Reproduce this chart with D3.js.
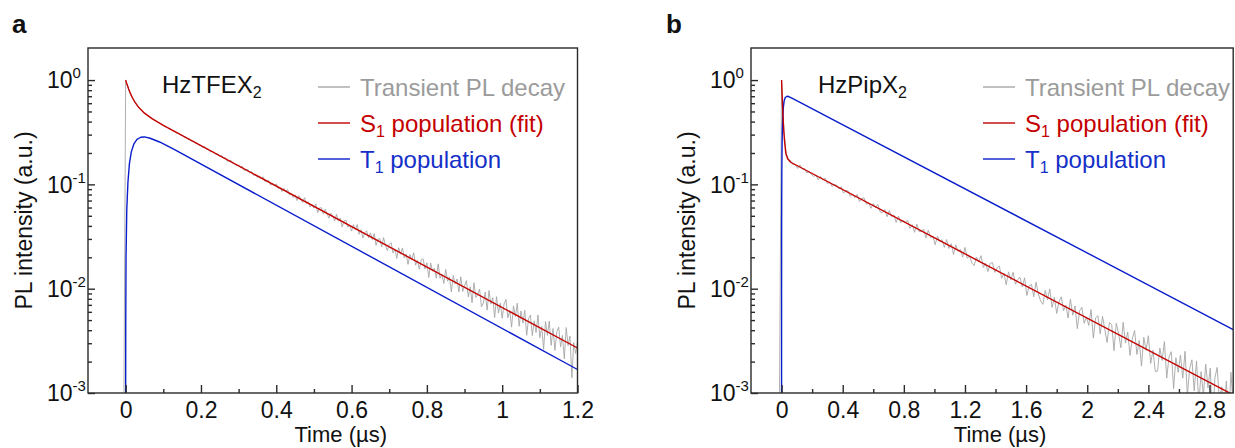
<!DOCTYPE html>
<html>
<head>
<meta charset="utf-8">
<script src="https://cdn.jsdelivr.net/npm/d3@7"></script>
<style>
  body { margin: 0; background: #fff; }
  svg { display: block; font-family: "Liberation Sans", Arial, sans-serif; }
</style>
</head>
<body>
<svg id="chart" width="1235" height="448"></svg>
<script>
// ---- data (time in µs, intensity normalised) ----

// panel a: HzTFEX2
const s1TimeA  = [0, 0.002, 0.004, 0.008, 0.012, 0.018, 0.025, 0.035, 0.05, 0.07, 0.1, 1.2];
const s1ValueA = [1.0, 0.95, 0.90, 0.82, 0.754, 0.677, 0.611, 0.545, 0.482, 0.427, 0.368, 0.0027];
const t1TimeA  = [0.00005, 0.0002, 0.001, 0.003, 0.006, 0.01, 0.015, 0.022, 0.03, 0.04, 0.05, 0.065, 0.09, 0.13, 1.2];
const t1ValueA = [0.001, 0.004, 0.02, 0.057, 0.104, 0.158, 0.205, 0.245, 0.27, 0.283, 0.285, 0.277, 0.255, 0.215, 0.00168];
// measured decay, one sample every 0.005 µs starting at -0.005 µs
const grayStartA = -0.005, grayStepA = 0.005;
const grayA = [
  0.0005, 0.98, 0.88, 0.77, 0.70, 0.655, 0.612, 0.576, 0.546, 0.521, 0.499, 0.481, 0.466, 0.452, 0.439, 0.428, 0.416, 0.406, 0.395, 0.386, 0.377,
  0.369, 0.358, 0.354, 0.342, 0.338, 0.327, 0.324, 0.313, 0.309, 0.300,
  0.297, 0.284, 0.284, 0.271, 0.272, 0.259, 0.260, 0.248, 0.249, 0.237,
  0.237, 0.225, 0.230, 0.218, 0.218, 0.205, 0.208, 0.202, 0.193, 0.196,
  0.1847, 0.1885, 0.1784, 0.1798, 0.166, 0.1697, 0.1694, 0.1583, 0.1576, 0.15,
  0.1542, 0.1451, 0.1496, 0.1362, 0.1386, 0.1382, 0.1286, 0.1327, 0.1214, 0.1247,
  0.1167, 0.1203, 0.1144, 0.1182, 0.1064, 0.1088, 0.1084, 0.0983, 0.1025, 0.0972,
  0.1012, 0.0913, 0.0939, 0.0852, 0.0918, 0.0858, 0.0893, 0.0794, 0.0813, 0.075,
  0.0796, 0.07, 0.0778, 0.0725, 0.067, 0.0746, 0.066, 0.0684, 0.0606, 0.0641,
  0.0592, 0.0649, 0.0535, 0.0595, 0.0597, 0.0522, 0.0578, 0.052, 0.0475, 0.053,
  0.05, 0.0446, 0.0517, 0.0444, 0.0475, 0.0391, 0.0444, 0.0454, 0.039, 0.0406,
  0.0357, 0.0411, 0.0367, 0.0412, 0.0333, 0.0367, 0.0307, 0.0343, 0.036, 0.0306,
  0.0343, 0.0296, 0.0337, 0.026, 0.0297, 0.0302, 0.0251, 0.0309, 0.0258, 0.0232,
  0.0266, 0.0276, 0.022, 0.0241, 0.0195, 0.0247, 0.0214, 0.0246, 0.0197, 0.0215,
  0.0171, 0.0212, 0.019, 0.0221, 0.0168, 0.0187, 0.0154, 0.0189, 0.0193, 0.0154,
  0.0177, 0.0128, 0.0176, 0.0147, 0.0157, 0.0126, 0.0173, 0.0126, 0.0137, 0.0112,
  0.0153, 0.0118, 0.0129, 0.0093, 0.0134, 0.0111, 0.0124, 0.0093, 0.013, 0.0094,
  0.01065, 0.01195, 0.00834, 0.01045, 0.00734, 0.0114, 0.00824, 0.00881, 0.00993, 0.0067,
  0.0073, 0.00929, 0.00623, 0.0096, 0.00711, 0.00821, 0.00529, 0.00839, 0.00584, 0.00725,
  0.00521, 0.00713, 0.00789, 0.00525, 0.00616, 0.00428, 0.00686, 0.00539, 0.00725, 0.00437,
  0.00612, 0.00468, 0.0062, 0.00357, 0.00515, 0.00558, 0.00355, 0.00492, 0.0038, 0.0056,
  0.00338, 0.00434, 0.00262, 0.00484, 0.00357, 0.0049, 0.00286, 0.00415, 0.00256, 0.00388,
  0.00428, 0.00277, 0.00357, 0.00213, 0.00424, 0.00285, 0.00351, 0.0014, 0.00305, 0.00239,
  0.0031
];

// panel b: HzPipX2
const s1TimeB  = [0, 0.003, 0.006, 0.01, 0.015, 0.02, 0.028, 0.04, 0.06, 2.955];
const s1ValueB = [1.0, 0.755, 0.584, 0.432, 0.318, 0.255, 0.198, 0.176, 0.163, 0.00096];
const t1TimeB  = [0.000012, 0.0001, 0.0005, 0.0015, 0.003, 0.005, 0.008, 0.012, 0.017, 0.024, 0.036, 0.05, 0.08, 2.955];
const t1ValueB = [0.001, 0.0087, 0.043, 0.12, 0.22, 0.33, 0.45, 0.557, 0.633, 0.681, 0.70, 0.692, 0.658, 0.00406];
// measured decay, one sample every 0.015 µs starting at -0.015 µs
const grayStartB = -0.015, grayStepB = 0.015;
const grayB = [
  0.0005, 0.97, 0.33, 0.2, 0.172,
  0.1683, 0.1538, 0.1559, 0.1422, 0.1536, 0.1406, 0.1419, 0.129, 0.1324, 0.1249,
  0.1196, 0.1219, 0.1103, 0.1192, 0.1101, 0.1146, 0.1015, 0.1059, 0.0953, 0.0999,
  0.0986, 0.0907, 0.0949, 0.0823, 0.0868, 0.0868, 0.0769, 0.0806, 0.0745, 0.08,
  0.0686, 0.0731, 0.0741, 0.0645, 0.066, 0.059, 0.0655, 0.0599, 0.0642, 0.0544,
  0.0536, 0.0574, 0.049, 0.0561, 0.0493, 0.051, 0.0432, 0.0496, 0.0428, 0.0452,
  0.0435, 0.0452, 0.0379, 0.0411, 0.0347, 0.0416, 0.0352, 0.0356, 0.0371, 0.0307,
  0.0364, 0.0309, 0.032, 0.0264, 0.0319, 0.0283, 0.0295, 0.0249, 0.0296, 0.0243,
  0.027, 0.0213, 0.0263, 0.0228, 0.0238, 0.0201, 0.0249, 0.0196, 0.0206, 0.0176,
  0.01665, 0.02011, 0.01811, 0.02071, 0.01597, 0.0175, 0.01458, 0.01752, 0.01778, 0.01434,
  0.01578, 0.01649, 0.01259, 0.01404, 0.0109, 0.0145, 0.01215, 0.01439, 0.01105, 0.01228,
  0.01289, 0.0104, 0.01271, 0.0086, 0.01067, 0.011, 0.00838, 0.01155, 0.00891, 0.0076,
  0.00708, 0.00963, 0.00784, 0.00995, 0.00663, 0.00828, 0.00579, 0.00748, 0.00836, 0.00616,
  0.00694, 0.00523, 0.00793, 0.00557, 0.00683, 0.00414, 0.00614, 0.00663, 0.00466, 0.00536,
  0.00444, 0.00631, 0.00336, 0.00525, 0.00551, 0.00369, 0.00543, 0.00406, 0.00305, 0.00474,
  0.00453, 0.00255, 0.00467, 0.00372, 0.00272, 0.00476, 0.00301, 0.00384, 0.00229, 0.00333,
  0.00397, 0.00234, 0.00319, 0.00181, 0.00342, 0.00256, 0.00354, 0.00192, 0.00257, 0.00161,
  0.00162, 0.0027, 0.00205, 0.00311, 0.00139, 0.00222, 0.00249, 0.0011, 0.00218, 0.00158,
  0.00231, 0.00139, 0.00251, 0.00095, 0.00171, 0.00208, 0.00105, 0.00203, 0.00078, 0.0016,
  0.00095, 0.00189, 0.00112, 0.00173, 0.00049, 0.00139, 0.00176, 0.00084, 0.00115, 0.00061,
  0.0013, 0.00051, 0.00158, 0.00077
];

// ticks
const xMajorA = [0, 0.2, 0.4, 0.6, 0.8, 1, 1.2];
const xMinorA = [0.1, 0.3, 0.5, 0.7, 0.9, 1.1];
const xMajorB = [0, 0.4, 0.8, 1.2, 1.6, 2, 2.4, 2.8];
const xMinorB = [0.2, 0.6, 1.0, 1.4, 1.8, 2.2, 2.6];
const yDecades = [0.001, 0.01, 0.1, 1];
const yExponents = ["-3", "-2", "-1", "0"];

// text
const legendParts = [["Transient PL decay", "", ""], ["S", "1", " population (fit)"], ["T", "1", " population"]];

// ---- drawing ----
const grayColor = "#a6a6a6", redColor = "#c40000", blueColor = "#0a1ecc";
const legendColors = [grayColor, redColor, blueColor];
const legendTextColors = ["#9b9b9b", "#c40000", "#1430c8"];
const axisColor = "#2a2a2a";
const plotTop = 48, plotBottom = 393;
const yMin = 0.001, yMax = 2.03;

const svg = d3.select("#chart");

const panels = [
  { id: "a", letter: "a", name: "HzTFEX", left: 88, right: 577.5, xDomain: [-0.1, 1.2],
    xMajor: xMajorA, xMinor: xMinorA, s1: d3.zip(s1TimeA, s1ValueA), t1: d3.zip(t1TimeA, t1ValueA),
    gray: grayA, grayStart: grayStartA, grayStep: grayStepA, nameX: 162, legendX: 318, letterX: 12 },
  { id: "b", letter: "b", name: "HzPipX", left: 751, right: 1233.2, xDomain: [-0.2, 2.955],
    xMajor: xMajorB, xMinor: xMinorB, s1: d3.zip(s1TimeB, s1ValueB), t1: d3.zip(t1TimeB, t1ValueB),
    gray: grayB, grayStart: grayStartB, grayStep: grayStepB, nameX: 818, legendX: 983, letterX: 666 }
];

panels.forEach(p => {
  const x = d3.scaleLinear().domain(p.xDomain).range([p.left, p.right]);
  const y = d3.scaleLog().domain([yMin, yMax]).range([plotBottom, plotTop]);
  const g = svg.append("g");

  g.append("clipPath").attr("id", "clip-" + p.id)
    .append("rect")
    .attr("x", p.left).attr("y", plotTop)
    .attr("width", p.right - p.left).attr("height", plotBottom - plotTop);

  const plot = g.append("g").attr("clip-path", `url(#clip-${p.id})`);

  const grayLine = d3.line()
    .x((d, i) => x(p.grayStart + i * p.grayStep))
    .y(d => y(d));

  // straight segments on the log scale = single exponentials
  const fitLine = d3.line()
    .x(d => x(d[0]))
    .y(d => y(d[1]));

  plot.append("path")
    .datum(p.gray)
    .attr("fill", "none")
    .attr("stroke", grayColor)
    .attr("stroke-width", 0.9)
    .attr("d", grayLine);

  plot.append("path")
    .datum(p.t1)
    .attr("fill", "none")
    .attr("stroke", blueColor)
    .attr("stroke-width", 1.4)
    .attr("stroke-linejoin", "round")
    .attr("d", fitLine);

  plot.append("path")
    .datum(p.s1)
    .attr("fill", "none")
    .attr("stroke", redColor)
    .attr("stroke-width", 1.4)
    .attr("stroke-linejoin", "round")
    .attr("d", fitLine);

  // x axis, ticks pointing inward
  const styleAxis = sel => {
    sel.select(".domain").remove();
    sel.selectAll(".tick line").attr("stroke", axisColor).attr("stroke-width", 1.4);
    sel.attr("font-family", null).attr("font-size", 23);
    sel.selectAll(".tick text").attr("fill", "#111");
  };

  g.append("g")
    .attr("transform", `translate(0,${plotBottom})`)
    .call(d3.axisBottom(x).tickValues(p.xMinor).tickSize(-4).tickFormat(""))
    .call(styleAxis);

  g.append("g")
    .attr("transform", `translate(0,${plotBottom})`)
    .call(d3.axisBottom(x).tickValues(p.xMajor).tickSize(-8).tickPadding(8.5).tickFormat(d3.format("~g")))
    .call(styleAxis);

  // y axis (log)
  const yMinor = y.ticks().filter(v => v < 1 && !yDecades.includes(v));
  g.append("g")
    .attr("transform", `translate(${p.left},0)`)
    .call(d3.axisLeft(y).tickValues(yMinor).tickSize(-4).tickFormat(""))
    .call(styleAxis);

  g.append("g")
    .attr("transform", `translate(${p.left},0)`)
    .call(d3.axisLeft(y).tickValues(yDecades).tickSize(-7).tickFormat(""))
    .call(styleAxis);

  yDecades.forEach((v, i) => {
    const t = g.append("text")
      .attr("x", p.left - 41)
      .attr("y", y(v))
      .attr("dy", "0.36em")
      .attr("font-size", 23)
      .attr("fill", "#111");
    t.append("tspan").text("10");
    t.append("tspan").attr("font-size", 15).attr("dy", -10).text(yExponents[i]);
  });

  // frame
  g.append("rect")
    .attr("x", p.left).attr("y", plotTop)
    .attr("width", p.right - p.left).attr("height", plotBottom - plotTop)
    .attr("fill", "none")
    .attr("stroke", axisColor)
    .attr("stroke-width", 1.4);

  // axis titles
  g.append("text")
    .attr("x", (p.left + p.right) / 2 + 8)
    .attr("y", 442)
    .attr("text-anchor", "middle")
    .attr("font-size", 22)
    .attr("fill", "#111")
    .text("Time (µs)");

  g.append("text")
    .attr("transform", `translate(${p.left - 56},${(plotTop + plotBottom) / 2}) rotate(-90)`)
    .attr("text-anchor", "middle")
    .attr("font-size", 23)
    .attr("fill", "#111")
    .text("PL intensity (a.u.)");

  // panel letter
  g.append("text")
    .attr("x", p.letterX)
    .attr("y", 33)
    .attr("font-size", 26)
    .attr("font-weight", "bold")
    .attr("fill", "#111")
    .text(p.letter);

  // compound name
  const nm = g.append("text")
    .attr("x", p.nameX)
    .attr("y", 93)
    .attr("font-size", 24)
    .attr("fill", "#111");
  nm.append("tspan").text(p.name);
  nm.append("tspan").attr("font-size", 16).attr("dy", 5).text("2");

  // legend
  legendParts.forEach((parts, i) => {
    const ly = 87 + i * 36;
    g.append("line")
      .attr("x1", p.legendX).attr("x2", p.legendX + 32)
      .attr("y1", ly).attr("y2", ly)
      .attr("stroke", legendColors[i])
      .attr("stroke-width", 1.4);
    const lt = g.append("text")
      .attr("x", p.legendX + 42)
      .attr("y", ly + 8.5)
      .attr("font-size", 24)
      .attr("fill", legendTextColors[i]);
    lt.append("tspan").text(parts[0]);
    if (parts[1]) {
      lt.append("tspan").attr("font-size", 16).attr("dy", 5).text(parts[1]);
      lt.append("tspan").attr("dy", -5).text(parts[2]);
    }
  });
});
</script>
</body>
</html>
